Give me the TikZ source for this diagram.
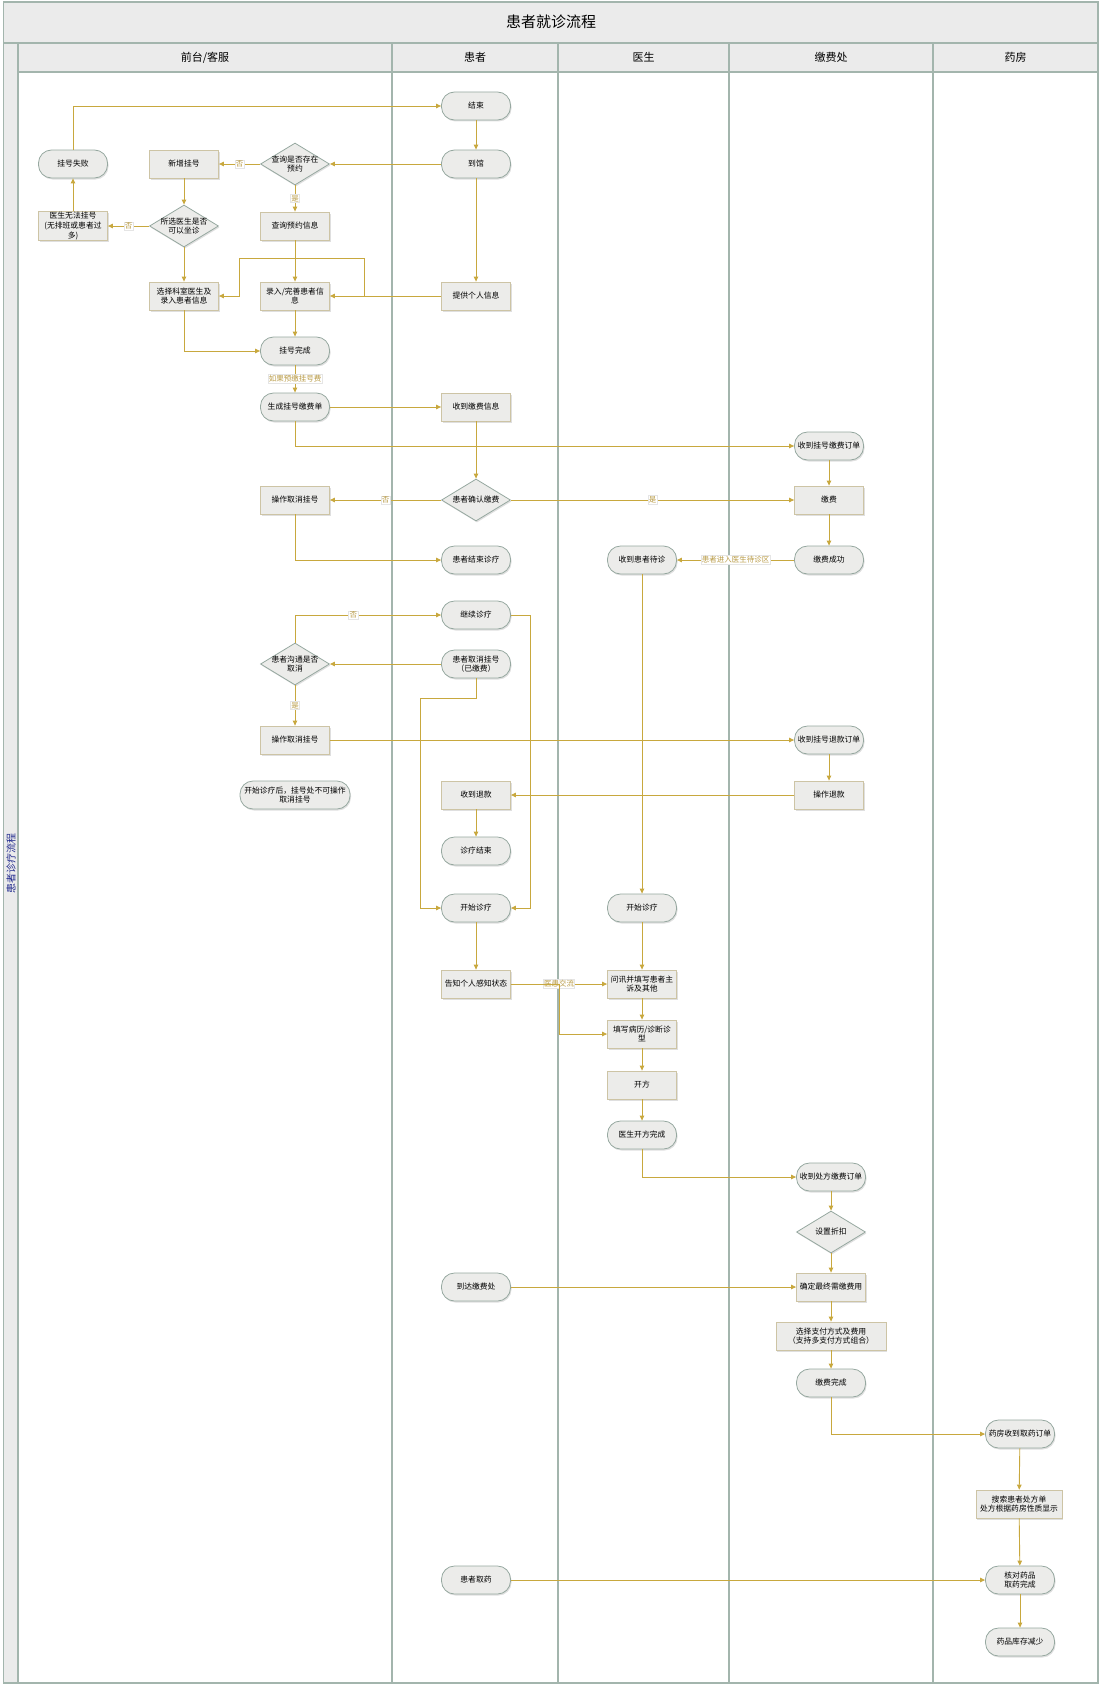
\documentclass[tikz,border=0pt]{standalone}
\usepackage{fontspec}
\setmainfont{Noto Sans CJK SC}
\usetikzlibrary{shapes.geometric,arrows.meta,shadows}
\definecolor{flowc}{RGB}{200,168,62}
\definecolor{labelc}{RGB}{185,155,70}
\definecolor{nodec}{RGB}{236,236,234}
\definecolor{termc}{RGB}{150,168,160}
\definecolor{boxc}{RGB}{205,196,165}
\definecolor{lanec}{RGB}{163,181,173}
\definecolor{headc}{RGB}{235,235,235}
\definecolor{poolc}{RGB}{30,40,140}
\newcommand{\flowfont}{\fontsize{7.8}{9.6}\selectfont}

\begin{document}
\begin{tikzpicture}[x=1pt,y=-1pt,
    termnode/.style={rectangle, rounded corners=13pt, draw=termc, fill=nodec, line width=0.8pt, minimum width=69pt, minimum height=28pt, inner sep=1pt, align=center, font=\flowfont, drop shadow={shadow xshift=1pt, shadow yshift=-1.5pt, opacity=0.25}},
    boxnode/.style={rectangle, draw=boxc, fill=nodec, line width=0.8pt, minimum width=69pt, minimum height=28pt, inner sep=1pt, align=center, font=\flowfont, drop shadow={shadow xshift=1pt, shadow yshift=-1.5pt, opacity=0.25}},
    decnode/.style={diamond, aspect=1.6, draw=termc, fill=nodec, line width=0.8pt, minimum width=69pt, minimum height=42pt, inner sep=-1.3pt, align=center, font=\flowfont, drop shadow={shadow xshift=1pt, shadow yshift=-1.5pt, opacity=0.25}},
    flow/.style={draw=flowc, line width=0.9pt, -{Triangle[length=5pt,width=4.5pt]}},
    lbl/.style={fill=white, draw=black!10, text=labelc, inner sep=0.8pt, font=\fontsize{7.5}{8}\selectfont},
    lane/.style={draw=lanec, line width=1.2pt},
    headtext/.style={font=\fontsize{11}{12}\selectfont}
    ]
    \useasboundingbox (0,0) rectangle (1104,1691);
    \fill[headc] (3.6,2) rectangle (1098,43);
    \fill[headc] (3.6,43) rectangle (18,1683);
    \fill[headc] (18,43) rectangle (1098,72);
    \draw[lane] (3.6,2) rectangle (1098,1683);
    \draw[lane] (3.6,43) -- (1098,43);
    \draw[lane] (18,72) -- (1098,72);
    \draw[lane] (18,43) -- (18,1683);
    \foreach \x in {392,558,729,933}
        \draw[lane] (\x,43) -- (\x,1683);

    \node [font=\fontsize{15}{16}\selectfont] (title) at (551,22) {患者就诊流程};
    \node [headtext] (h1) at (205,57.5) {前台/客服};
    \node [headtext] (h2) at (475,57.5) {患者};
    \node [headtext] (h3) at (643.5,57.5) {医生};
    \node [headtext] (h4) at (831,57.5) {缴费处};
    \node [headtext] (h5) at (1015.5,57.5) {药房};
    \node [rotate=90, text=poolc, font=\fontsize{10}{11}\selectfont] (pool) at (11,863) {患者诊疗流程};

    \node [termnode] (f1) at (73,164) {挂号失败};
    \node [boxnode] (f2) at (184,164) {新增挂号};
    \node [decnode] (f3) at (295,164) {查询是否存在\\预约};
    \node [boxnode] (f4) at (73,226) {医生无法挂号\\(无排班或患者过\\多)};
    \node [decnode] (f5) at (184,226) {所选医生是否\\可以坐诊};
    \node [boxnode] (f6) at (295,226) {查询预约信息};
    \node [boxnode] (f7) at (184,296) {选择科室医生及\\录入患者信息};
    \node [boxnode] (f8) at (295,296) {录入/完善患者信\\息};
    \node [termnode] (f9) at (295,351) {挂号完成};
    \node [termnode] (f10) at (295,407) {生成挂号缴费单};
    \node [boxnode] (f11) at (295,500) {操作取消挂号};
    \node [decnode] (f12) at (295,664) {患者沟通是否\\取消};
    \node [boxnode] (f13) at (295,740) {操作取消挂号};
    \node [termnode, minimum width=110pt] (f14) at (295,795) {开始诊疗后，挂号处不可操作\\取消挂号};

    \node [termnode] (p1) at (476,106) {结束};
    \node [termnode] (p2) at (476,164) {到馆};
    \node [boxnode] (p3) at (476,296) {提供个人信息};
    \node [boxnode] (p4) at (476,407) {收到缴费信息};
    \node [decnode] (p5) at (476,500) {患者确认缴费};
    \node [termnode] (p6) at (476,560) {患者结束诊疗};
    \node [termnode] (p7) at (476,615) {继续诊疗};
    \node [termnode] (p8) at (476,664) {患者取消挂号\\（已缴费）};
    \node [boxnode] (p9) at (476,795) {收到退款};
    \node [termnode] (p10) at (476,851) {诊疗结束};
    \node [termnode] (p11) at (476,908) {开始诊疗};
    \node [boxnode] (p12) at (476,984) {告知个人感知状态};
    \node [termnode] (p13) at (476,1287) {到达缴费处};
    \node [termnode] (p14) at (476,1580) {患者取药};

    \node [termnode] (d1) at (642,560) {收到患者待诊};
    \node [termnode] (d2) at (642,908) {开始诊疗};
    \node [boxnode] (d3) at (642,984) {问讯并填写患者主\\诉及其他};
    \node [boxnode] (d4) at (642,1034) {填写病历/诊断诊\\型};
    \node [boxnode] (d5) at (642,1085) {开方};
    \node [termnode] (d6) at (642,1135) {医生开方完成};

    \node [termnode] (c1) at (829,446) {收到挂号缴费订单};
    \node [boxnode] (c2) at (829,500) {缴费};
    \node [termnode] (c3) at (829,560) {缴费成功};
    \node [termnode] (c4) at (829,740) {收到挂号退款订单};
    \node [boxnode] (c5) at (829,795) {操作退款};
    \node [termnode] (c6) at (831,1177) {收到处方缴费订单};
    \node [decnode] (c7) at (831,1232) {设置折扣};
    \node [boxnode] (c8) at (831,1287) {确定最终需缴费用};
    \node [boxnode, minimum width=110pt] (c9) at (831,1336) {选择支付方式及费用\\（支持多支付方式组合）};
    \node [termnode] (c10) at (831,1383) {缴费完成};

    \node [termnode] (m1) at (1020,1434) {药房收到取药订单};
    \node [boxnode, minimum width=86pt] (m2) at (1019,1504) {搜索患者处方单\\处方根据药房性质显示};
    \node [termnode] (m3) at (1020,1580) {核对药品\\取药完成};
    \node [termnode] (m4) at (1020,1642) {药品库存减少};

    \draw [flow] (f1) |- (p1);
    \draw [flow] (p1) -- (p2);
    \draw [flow] (p2) -- (f3);
    \draw [flow] (f3) -- node[lbl] {否} (f2);
    \draw [flow] (f3) -- node[lbl] {是} (f6);
    \draw [flow] (f2) -- (f5);
    \draw [flow] (f5) -- node[lbl] {否} (f4);
    \draw [flow] (f4) -- (f1);
    \draw [flow] (f5) -- (f7);
    \draw [flow] (p2) -- (p3);
    \draw [flow] (f6) -- (f8);
    \draw [flow] (p3) -- (f8);
    \draw [flow] (p3.west) -| (364,258) -| (239,296) -- (f7.east);
    \draw [flow] (f8) -- (f9);
    \draw [flow] (f7) |- (f9);
    \draw [flow] (f9) -- node[lbl] {如果预缴挂号费} (f10);
    \draw [flow] (f10) -- (p4);
    \draw [flow] (f10) |- (c1);
    \draw [flow] (p4) -- (p5);
    \draw [flow] (p5) -- node[lbl] {否} (f11);
    \draw [flow] (p5) -- node[lbl] {是} (c2);
    \draw [flow] (c1) -- (c2);
    \draw [flow] (c2) -- (c3);
    \draw [flow] (c3) -- node[lbl] {患者进入医生待诊区} (d1);
    \draw [flow] (f11) |- (p6);
    \draw [flow] (f12) |- node[lbl, pos=0.7] {否} (p7);
    \draw [flow] (p8) -- (f12);
    \draw [flow] (f12) -- node[lbl] {是} (f13);
    \draw [flow] (f13) -- (c4);
    \draw [flow] (c4) -- (c5);
    \draw [flow] (c5) -- (p9);
    \draw [flow] (p9) -- (p10);
    \draw [flow] (p7.east) -- (530,615) |- (p11.east);
    \draw [flow] (p8) |- (420,698) |- (p11.west);
    \draw [flow] (d1) -- (d2);
    \draw [flow] (p11) -- (p12);
    \draw [flow] (d2) -- (d3);
    \draw [flow] (p12) -- node[lbl] {医患交流} (d3);
    \draw [flow] (p12.east) -| (559,1034) -- (d4.west);
    \draw [flow] (d3) -- (d4);
    \draw [flow] (d4) -- (d5);
    \draw [flow] (d5) -- (d6);
    \draw [flow] (d6) |- (c6);
    \draw [flow] (c6) -- (c7);
    \draw [flow] (c7) -- (c8);
    \draw [flow] (p13) -- (c8);
    \draw [flow] (c8) -- (c9);
    \draw [flow] (c9) -- (c10);
    \draw [flow] (c10) |- (m1);
    \draw [flow] (m1) -- (m2);
    \draw [flow] (m2) -- (m3);
    \draw [flow] (p14) -- (m3);
    \draw [flow] (m3) -- (m4);
\end{tikzpicture}
\end{document}
